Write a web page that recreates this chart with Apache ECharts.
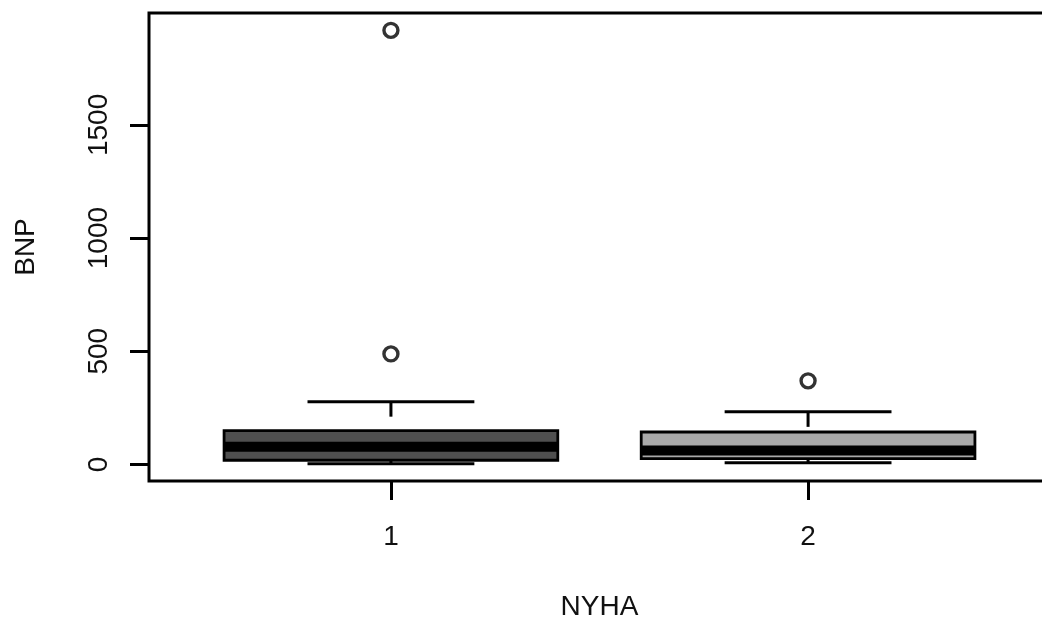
<!DOCTYPE html>
<html>
<head>
<meta charset="utf-8">
<script src="https://cdn.jsdelivr.net/npm/echarts@6/dist/echarts.min.js"></script>
<style>
  html, body { margin: 0; padding: 0; background: #fff; }
  #chart { width: 1042px; height: 621px; }
</style>
</head>
<body>
<div id="chart"></div>
<script>
// NYHA class groups and BNP box statistics
const categories = ['1', '2'];
const lowerWhisker = [3, 7];
const lowerQuartile = [18, 25];
const medians = [78, 61];
const upperQuartile = [149, 143];
const upperWhisker = [277, 232];
// points beyond the whiskers: [group position, BNP]
const outliers = [[1, 1918], [1, 488], [2, 369]];
const yTicks = [0, 500, 1000, 1500];

const boxFills = ['#4f4f4f', '#a9a9a9'];
const FONT = '"Liberation Sans", Arial, Helvetica, sans-serif';
const LW = 3;

// data extent padded by 4% on each side, as in classic boxplot layouts
const allValues = lowerWhisker.concat(upperWhisker, outliers.map(o => o[1]));
const dMin = Math.min(...allValues), dMax = Math.max(...allValues);
const pad = (dMax - dMin) * 0.04;

const boxData = categories.map((c, i) => [i + 1, lowerWhisker[i], lowerQuartile[i], medians[i], upperQuartile[i], upperWhisker[i], i]);

function renderBox(params, api) {
  const x = api.value(0);
  const idx = api.value(6);
  const halfBox = 0.4, halfStaple = 0.2;
  const p = (xx, yy) => api.coord([xx, yy]);
  const lo = api.value(1), q1 = api.value(2), med = api.value(3), q3 = api.value(4), hi = api.value(5);
  const tl = p(x - halfBox, q3), br = p(x + halfBox, q1);
  const line = (a, b, w, dash) => ({
    type: 'line',
    shape: { x1: a[0], y1: a[1], x2: b[0], y2: b[1] },
    style: { stroke: '#000', lineWidth: w, lineDash: dash || null }
  });
  return {
    type: 'group',
    children: [
      // whiskers, dashed from the whisker end towards the box
      line(p(x, hi), p(x, q3), LW, [15, 15]),
      line(p(x, lo), p(x, q1), LW, [15, 15]),
      // staples
      line(p(x - halfStaple, hi), p(x + halfStaple, hi), LW),
      line(p(x - halfStaple, lo), p(x + halfStaple, lo), LW),
      {
        type: 'rect',
        shape: { x: tl[0], y: tl[1], width: br[0] - tl[0], height: br[1] - tl[1] },
        style: { fill: boxFills[idx], stroke: '#000', lineWidth: 2.8 }
      },
      line(p(x - halfBox, med), p(x + halfBox, med), 10)
    ]
  };
}

const chart = echarts.init(document.getElementById('chart'), null, { renderer: 'canvas' });
chart.setOption({
  animation: false,
  backgroundColor: '#fff',
  grid: {
    left: 149, top: 13, width: 901, height: 468,
    outerBoundsMode: 'none',
    containLabel: false,
    show: true, borderColor: '#000', borderWidth: LW, backgroundColor: 'transparent'
  },
  xAxis: {
    type: 'value',
    min: 0.42, max: 2.58,
    name: 'NYHA', nameLocation: 'middle', nameGap: 112,
    nameTextStyle: { fontFamily: FONT, fontSize: 28, color: '#111' },
    axisLine: { show: false, onZero: false },
    splitLine: { show: false },
    axisTick: {
      show: true, length: 19, customValues: [1, 2],
      lineStyle: { color: '#000', width: LW }
    },
    axisLabel: {
      customValues: [1, 2],
      formatter: v => categories[Math.round(v) - 1],
      fontFamily: FONT, fontSize: 28, color: '#111', margin: 42
    }
  },
  yAxis: {
    type: 'value',
    min: dMin - pad, max: dMax + pad,
    name: 'BNP', nameLocation: 'middle', nameGap: 109, nameRotate: 90,
    nameTextStyle: { fontFamily: FONT, fontSize: 28, color: '#111' },
    axisLine: { show: false, onZero: false },
    splitLine: { show: false },
    axisTick: {
      show: true, length: 19, customValues: yTicks,
      lineStyle: { color: '#000', width: LW }
    },
    axisLabel: {
      customValues: yTicks, rotate: 90,
      formatter: v => String(v),
      fontFamily: FONT, fontSize: 28, color: '#111', margin: 36
    }
  },
  series: [
    {
      type: 'custom',
      renderItem: renderBox,
      data: boxData,
      encode: { x: 0, y: [1, 2, 3, 4, 5] },
      z: 2
    },
    {
      type: 'scatter',
      data: outliers,
      symbol: 'circle',
      symbolSize: 14,
      itemStyle: { color: '#fff', borderColor: '#000', borderWidth: 3.4 },
      z: 3
    }
  ]
});
</script>
</body>
</html>
